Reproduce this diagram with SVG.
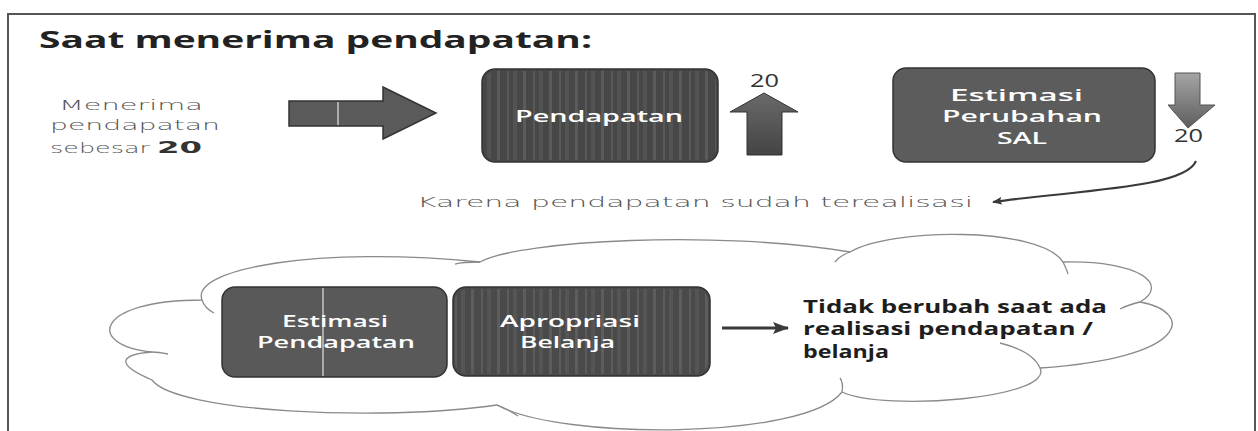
<svg xmlns="http://www.w3.org/2000/svg" width="1258" height="431" viewBox="0 0 1258 431">
<style>
.title{font-family:"Open Sans","Liberation Sans",sans-serif;font-weight:700;font-size:24px;fill:#222}
.hand{font-family:"DejaVu Sans","Liberation Sans",sans-serif;font-weight:200;font-size:14px;fill:#555}
.box{stroke:#333;stroke-width:1.5}
.lbl{font-family:"Open Sans","Liberation Sans",sans-serif;font-weight:600;font-size:16px;fill:#fff}
.num{font-family:"Open Sans","Liberation Sans",sans-serif;font-size:18px;fill:#333}
.note{font-family:"Open Sans","Liberation Sans",sans-serif;font-weight:700;font-size:17px;fill:#1e1e1e}
.conn{fill:none;stroke:#3a3a3a}
.cl{fill:none;stroke:#8a8a8a;stroke-width:1.3}
</style>
<defs>
<pattern id="stripes" width="26" height="10" patternUnits="userSpaceOnUse">
<rect x="3" y="0" width="3" height="10" fill="#8a8a8a" opacity="0.3"/>
<rect x="13" y="0" width="2" height="10" fill="#9a9a9a" opacity="0.22"/>
<rect x="19" y="0" width="4" height="10" fill="#777" opacity="0.25"/>
</pattern>
<linearGradient id="upg" x1="0" y1="0" x2="0" y2="1">
<stop offset="0" stop-color="#6a6a6a"/><stop offset="1" stop-color="#444"/>
</linearGradient>
<linearGradient id="dng" x1="0" y1="0" x2="0" y2="1">
<stop offset="0" stop-color="#a5a5a5"/><stop offset="1" stop-color="#5e5e5e"/>
</linearGradient>
<marker id="ah" markerWidth="10" markerHeight="8" refX="9" refY="4" orient="auto" markerUnits="userSpaceOnUse">
<path d="M0,0 L10,4 L0,8 L2,4 Z" fill="#3a3a3a"/>
</marker>
<marker id="ah2" markerWidth="16" markerHeight="12" refX="15" refY="6" orient="auto" markerUnits="userSpaceOnUse">
<path d="M0,0 L16,6 L0,12 L3,6 Z" fill="#3a3a3a"/>
</marker>
</defs>
<rect x="0" y="0" width="1258" height="431" fill="#fff"/>
<path d="M8,431 L8,14 L1255,14 L1255,431" fill="none" stroke="#555" stroke-width="2"/>
<text class="title" x="39" y="48" textLength="553" lengthAdjust="spacingAndGlyphs">Saat menerima pendapatan:</text>

<g id="menerima-text">
<text class="hand" x="59" y="110" textLength="144" lengthAdjust="spacingAndGlyphs">Menerima</text>
<text class="hand" x="50" y="130" textLength="170" lengthAdjust="spacingAndGlyphs">pendapatan</text>
<text class="hand" x="50" y="153" textLength="100" lengthAdjust="spacingAndGlyphs">sebesar</text>
<text x="157" y="153" textLength="45" lengthAdjust="spacingAndGlyphs" font-family="DejaVu Sans, sans-serif" font-weight="700" font-size="15" fill="#333">20</text>
</g>

<g id="cloud">
<path class="cl" d="M202,300 C190,268 320,246 480,262 C520,240 720,230 850,252 C890,228 1040,226 1063,262 C1140,260 1170,285 1140,302 C1195,312 1190,358 1040,368 C1055,398 885,412 842,392 C805,440 560,440 497,405 C380,422 175,412 152,380 C110,362 125,354 152,352 C85,345 95,300 202,300 Z" fill="#fff"/>
<path class="cl" d="M202,300 C204,306 208,310 214,313"/>
<path class="cl" d="M480,262 C470,262 462,262 455,264"/>
<path class="cl" d="M850,252 C842,255 838,258 835,262"/>
<path class="cl" d="M1063,262 C1065,266 1067,270 1068,274"/>
<path class="cl" d="M1140,302 C1132,304 1126,306 1120,309"/>
<path class="cl" d="M1040,368 C1035,356 1020,348 1000,343"/>
<path class="cl" d="M842,392 C843,386 843,382 840,378"/>
<path class="cl" d="M497,405 C505,408 512,412 518,416"/>
<path class="cl" d="M152,352 C158,352 163,353 168,354"/>
</g>

<g id="big-arrow">
<path d="M289,101 L383,101 L383,87 L436,113 L383,139 L383,126 L289,126 Z" fill="#5a5a5a" stroke="#333" stroke-width="1.5"/>
<line x1="338" y1="102" x2="338" y2="125" stroke="#fff" stroke-width="1"/>
</g>

<g id="pendapatan">
<rect class="box" x="482" y="69" width="236" height="93" rx="13" fill="#474747"/>
<rect x="484" y="71" width="232" height="89" rx="12" fill="url(#stripes)"/>
<text class="lbl" x="515" y="122" textLength="168" lengthAdjust="spacingAndGlyphs">Pendapatan</text>
</g>

<g id="up-arrow">
<text class="num" x="750" y="87" textLength="29" lengthAdjust="spacingAndGlyphs">20</text>
<path d="M747,155 L747,112 L730,112 L764,93 L798,112 L782,112 L782,155 Z" fill="url(#upg)" stroke="#333" stroke-width="1"/>
</g>

<g id="estimasi-sal">
<rect class="box" x="893" y="68" width="262" height="94" rx="13" fill="#5c5c5c"/>
<text class="lbl" x="950" y="101" textLength="133" lengthAdjust="spacingAndGlyphs">Estimasi</text>
<text class="lbl" x="942" y="122" textLength="160" lengthAdjust="spacingAndGlyphs">Perubahan</text>
<text class="lbl" x="997" y="144" textLength="50" lengthAdjust="spacingAndGlyphs">SAL</text>
</g>

<g id="down-arrow">
<path d="M1175,73 L1200,73 L1200,105 L1215,105 L1188,128 L1168,105 L1175,105 Z" fill="url(#dng)" stroke="#555" stroke-width="1"/>
<text class="num" x="1174" y="142" textLength="29" lengthAdjust="spacingAndGlyphs">20</text>
</g>

<g id="karena-text">
<text class="hand" x="417" y="207" textLength="556" lengthAdjust="spacingAndGlyphs">Karena pendapatan sudah terealisasi</text>
</g>

<g id="estimasi-pendapatan">
<rect class="box" x="222" y="287" width="225" height="90" rx="13" fill="#595959"/>
<line x1="323" y1="288" x2="323" y2="376" stroke="#fff" stroke-width="1"/>
<text class="lbl" x="282" y="327" textLength="106" lengthAdjust="spacingAndGlyphs">Estimasi</text>
<text class="lbl" x="257" y="348" textLength="158" lengthAdjust="spacingAndGlyphs">Pendapatan</text>
</g>

<g id="apropriasi-belanja">
<rect class="box" x="453" y="287" width="257" height="89" rx="13" fill="#4a4a4a"/>
<rect x="455" y="289" width="253" height="85" rx="12" fill="url(#stripes)"/>
<text class="lbl" x="500" y="327" textLength="140" lengthAdjust="spacingAndGlyphs">Apropriasi</text>
<text class="lbl" x="520" y="348" textLength="95" lengthAdjust="spacingAndGlyphs">Belanja</text>
</g>

<g id="tidak-berubah">
<text class="note" x="803" y="313" textLength="304" lengthAdjust="spacingAndGlyphs">Tidak berubah saat ada</text>
<text class="note" x="803" y="335" textLength="290" lengthAdjust="spacingAndGlyphs">realisasi pendapatan /</text>
<text class="note" x="803" y="358" textLength="86" lengthAdjust="spacingAndGlyphs">belanja</text>
</g>

<g id="connectors">
<path class="conn" d="M722,328 L788,328" stroke-width="3" marker-end="url(#ah2)"/>
<path class="conn" d="M1196,161 C1185,188 1080,190 993,202" stroke-width="2" marker-end="url(#ah)"/>
</g>
</svg>
